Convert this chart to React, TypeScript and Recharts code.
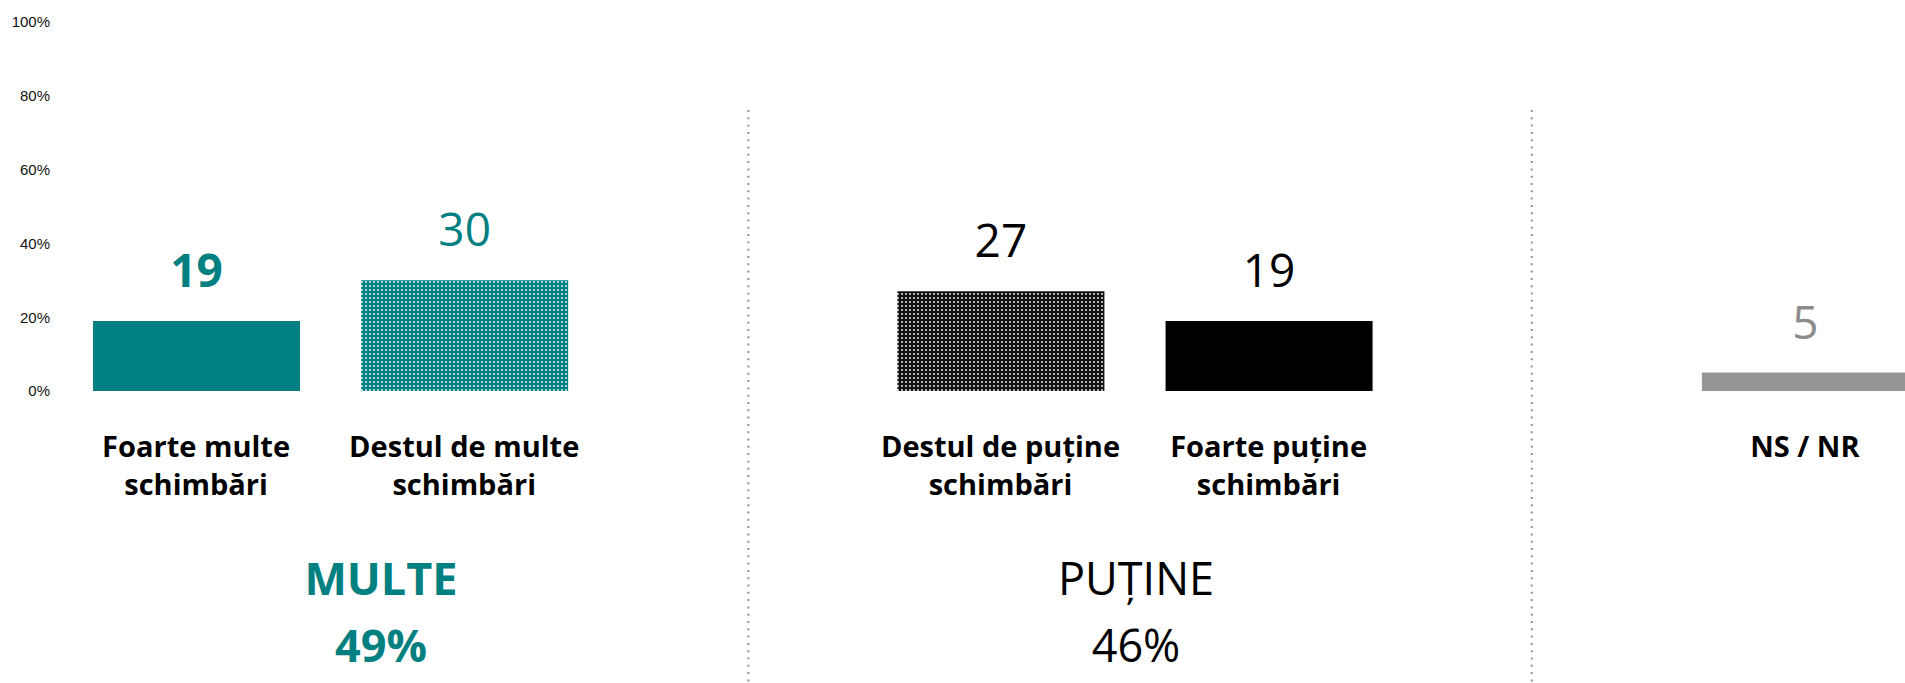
import React from "react";
import { BarChart, Bar, XAxis, YAxis, Cell, LabelList, ReferenceLine } from "recharts";

// ---- data ----
const categories = ["Foarte multe schimbări", "Destul de multe schimbări", "gap1", "Destul de puține schimbări", "Foarte puține schimbări", "gap2", "NS / NR"];
const tickLines: string[][] = [
  ["Foarte multe", "schimbări"],
  ["Destul de multe", "schimbări"],
  [],
  ["Destul de puține", "schimbări"],
  ["Foarte puține", "schimbări"],
  [],
  ["NS / NR"],
];
const values: (number | null)[] = [19, 30, null, 27, 19, null, 5];
const yTicks = [0, 20, 40, 60, 80, 100];
const groupTitles = ["MULTE", "PUȚINE"];
const groupTotals = ["49%", "46%"];

// ---- styles ----
const TEAL = "#008080";
const barFills = [TEAL, "url(#tealDots)", "none", "url(#blackDots)", "#000000", "none", "#969696"];
const labelColors = [TEAL, TEAL, "#000", "#000", "#000", "#000", "#8c8c8c"];
const labelWeights = [700, 400, 400, 400, 400, 400, 400];
const FONT = "'Open Sans', 'Noto Sans', sans-serif";
const dividerShift: Record<string, number> = { gap1: 16, gap2: -5 };

const data = categories.map((c, i) => ({ name: c, value: values[i] }));
const shownIdx = values.map((v, i) => (v === null ? -1 : i)).filter((i) => i >= 0);

const XTick = (props: any) => {
  const { x, y, index } = props;
  const lines = tickLines[index] || [];
  return (
    <g>
      {lines.map((l, k) => (
        <text key={k} x={x} y={y + 66 + k * 38} textAnchor="middle" fontFamily={FONT} fontWeight={700} fontSize={29} fill="#000">
          {l}
        </text>
      ))}
    </g>
  );
};

const ValueLabel = (props: any) => {
  const { x, y, width, value, index } = props;
  if (value === null || value === undefined) return null;
  const ci = shownIdx[index] ?? index;
  return (
    <text x={x + width / 2} y={y - 34} textAnchor="middle" fontFamily={FONT} fontSize={46} fontWeight={labelWeights[ci]} fill={labelColors[ci]}>
      {value}
    </text>
  );
};

const makeDivider = (key: string) => (props: any) => (
  <line x1={props.x1 + dividerShift[key]} x2={props.x2 + dividerShift[key]} y1={110} y2={683} stroke="#9a9a9a" strokeWidth={2.2} strokeDasharray="2 5.3" />
);

export default function App() {
  return (
    <div style={{ position: "fixed", left: 0, top: 0, width: 1905, height: 683, overflow: "hidden", background: "#fff" }}>
      <BarChart width={1939} height={683} data={data} margin={{ top: 22, right: 0, bottom: 0, left: 0 }} barSize={207}>
        <defs>
          <pattern id="tealDots" width="4" height="4" patternUnits="userSpaceOnUse">
            <rect width="4" height="4" fill={TEAL} />
            <rect x="1" y="1" width="2" height="2" fill="#a9d6d5" />
          </pattern>
          <pattern id="blackDots" width="4" height="4" patternUnits="userSpaceOnUse">
            <rect width="4" height="4" fill="#111" />
            <rect x="1" y="1" width="2" height="2" fill="#b0b0b0" />
          </pattern>
        </defs>
        <YAxis
          domain={[0, 100]}
          ticks={yTicks}
          width={62}
          axisLine={false}
          tickLine={false}
          tickSize={0}
          tickMargin={12}
          tickFormatter={(v: number) => `${v}%`}
          tick={{ fontFamily: "'Liberation Sans', Arial, sans-serif", fontSize: 15, fill: "#111" }}
          interval={0}
        />
        <XAxis dataKey="name" height={292} axisLine={false} tickLine={false} tickSize={0} tickMargin={0} interval={0} tick={<XTick />} />
        <ReferenceLine x="gap1" shape={makeDivider("gap1")} />
        <ReferenceLine x="gap2" shape={makeDivider("gap2")} />
        <Bar dataKey="value" isAnimationActive={false}>
          {data.map((d, i) => (
            <Cell key={d.name} fill={barFills[i]} />
          ))}
          <LabelList dataKey="value" content={<ValueLabel />} />
        </Bar>
      </BarChart>
      <svg width={1905} height={683} style={{ position: "absolute", left: 0, top: 0, pointerEvents: "none" }}>
        <text x={381} y={595} textAnchor="middle" fontFamily={FONT} fontWeight={700} fontSize={45} fill={TEAL}>{groupTitles[0]}</text>
        <text x={381} y={662} textAnchor="middle" fontFamily={FONT} fontWeight={700} fontSize={45} fill={TEAL}>{groupTotals[0]}</text>
        <text x={1136} y={595} textAnchor="middle" fontFamily={FONT} fontWeight={400} fontSize={45} fill="#000">{groupTitles[1]}</text>
        <text x={1136} y={662} textAnchor="middle" fontFamily={FONT} fontWeight={400} fontSize={45} fill="#000">{groupTotals[1]}</text>
      </svg>
    </div>
  );
}
